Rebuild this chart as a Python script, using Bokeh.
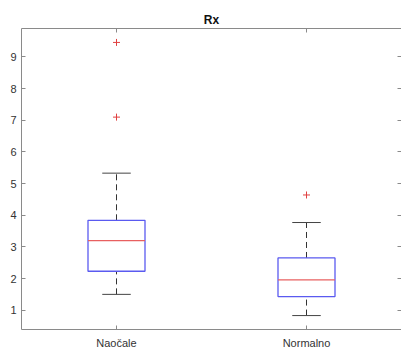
from bokeh.plotting import figure
from bokeh.models import Range1d, LinearAxis, FixedTicker, ColumnDataSource
from bokeh.embed import file_html
from bokeh.resources import INLINE

# Box-plot statistics for the two groups
groups = ["Naočale", "Normalno"]
positions = [1, 2]
q1 = [2.23, 1.43]
median = [3.20, 1.96]
q3 = [3.84, 2.65]
whisker_low = [1.50, 0.83]
whisker_high = [5.33, 3.77]

# Outliers (group position, value)
outlier_pos = [1, 1, 2]
outlier_val = [9.46, 7.10, 4.64]

y_ticks = [1, 2, 3, 4, 5, 6, 7, 8, 9]

FONT = "Liberation Sans"
AXIS_COLOR = "#8a8a8a"
LABEL_COLOR = "#333333"
BOX_W = 0.30
CAP_W = 0.15

p = figure(width=401, height=351, output_backend="svg", toolbar_location=None,
           x_range=Range1d(0.5, 2.5), y_range=Range1d(0.39, 9.9),
           min_border_left=21, min_border_right=0, min_border_top=28,
           min_border_bottom=21, tools="")
p.title.text = "Rx"
p.title.align = "center"
p.title.text_font = FONT
p.title.text_font_size = "12px"
p.title.text_font_style = "bold"
p.title.text_color = "#111111"
p.title.standoff = 3
p.outline_line_color = None
p.xgrid.visible = False
p.ygrid.visible = False
p.background_fill_color = "white"
p.border_fill_color = "white"


def style_axis(ax):
    ax.axis_line_color = AXIS_COLOR
    ax.major_tick_line_color = AXIS_COLOR
    ax.major_tick_in = 4
    ax.major_tick_out = 0
    ax.minor_tick_line_color = None
    ax.major_label_text_font = FONT
    ax.major_label_text_font_size = "11px"
    ax.major_label_text_color = LABEL_COLOR


def mirror_axis(ticks):
    # Unlabelled mirror axis: tick marks only (as minor ticks, so no labels)
    ax = LinearAxis(ticker=FixedTicker(ticks=[], minor_ticks=ticks))
    ax.axis_line_color = AXIS_COLOR
    ax.minor_tick_line_color = AXIS_COLOR
    ax.minor_tick_in = 4
    ax.minor_tick_out = 0
    ax.major_tick_line_color = None
    ax.major_label_standoff = 0
    return ax


xa = p.xaxis[0]
xa.ticker = FixedTicker(ticks=positions)
xa.major_label_overrides = {pos: name for pos, name in zip(positions, groups)}
xa.major_label_standoff = 7
style_axis(xa)

ya = p.yaxis[0]
ya.ticker = FixedTicker(ticks=y_ticks)
ya.major_label_standoff = 5
style_axis(ya)

p.add_layout(mirror_axis(positions), "above")
right = mirror_axis(y_ticks)
right.axis_line_color = None
p.add_layout(right, "right")

src = ColumnDataSource(dict(x=positions, q1=q1, med=median, q3=q3,
                            lo=whisker_low, hi=whisker_high,
                            x0=[x - BOX_W / 2 for x in positions],
                            x1=[x + BOX_W / 2 for x in positions],
                            c0=[x - CAP_W / 2 for x in positions],
                            c1=[x + CAP_W / 2 for x in positions]))

# Dashed whiskers
p.segment(x0="x", y0="q3", x1="x", y1="hi", source=src,
          line_color="#333333", line_width=1, line_dash="6 4")
p.segment(x0="x", y0="lo", x1="x", y1="q1", source=src,
          line_color="#333333", line_width=1, line_dash="6 4")
# Whisker caps
p.segment(x0="c0", y0="hi", x1="c1", y1="hi", source=src,
          line_color="#444444", line_width=1)
p.segment(x0="c0", y0="lo", x1="c1", y1="lo", source=src,
          line_color="#444444", line_width=1)
# Boxes
p.quad(left="x0", right="x1", bottom="q1", top="q3", source=src,
       fill_color=None, line_color="#5a5af0", line_width=1.3)
# Medians
p.segment(x0="x0", y0="med", x1="x1", y1="med", source=src,
          line_color="#e86060", line_width=1.3)
# Outliers
p.scatter(x=outlier_pos, y=outlier_val, marker="cross", size=7,
          line_color="#e04040", line_width=1)

open("out.html", "w").write(file_html(p, INLINE))
